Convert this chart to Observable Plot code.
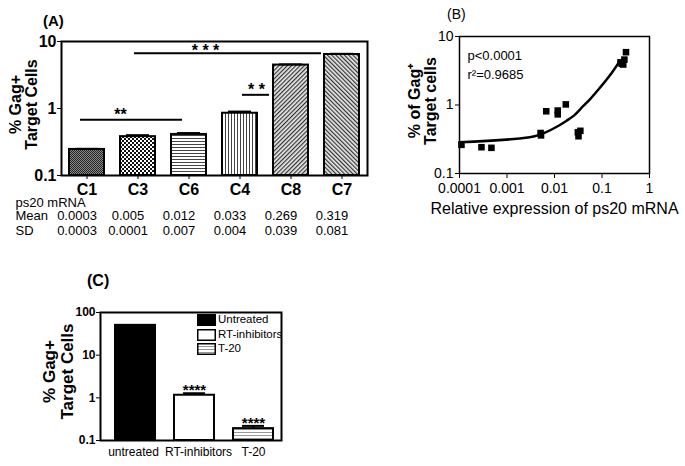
<!DOCTYPE html>
<html><head><meta charset="utf-8">
<script src="https://cdn.jsdelivr.net/npm/d3@7"></script>
<script src="https://cdn.jsdelivr.net/npm/@observablehq/plot@0.6"></script>
<style>
html,body{margin:0;padding:0;background:#fff;}
#root{position:relative;width:685px;height:466px;overflow:hidden;font-family:"Liberation Sans",Arial,sans-serif;color:#000;}
.pane{position:absolute;}
.plab{position:absolute;line-height:1;white-space:nowrap;}
.leg{position:absolute;display:flex;align-items:center;font-size:11.5px;line-height:1;white-space:nowrap;}
.leg svg{margin-right:2px;}
</style></head><body>
<svg width="0" height="0" style="position:absolute">
<defs>
  <pattern id="pat-C1" width="2" height="2" patternUnits="userSpaceOnUse">
    <rect width="2" height="2" fill="#8a8a8a"/>
    <rect width="1" height="1" fill="#222"/>
    <rect x="1" y="1" width="1" height="1" fill="#222"/>
  </pattern>
  <pattern id="pat-C3" width="4" height="4" patternUnits="userSpaceOnUse">
    <rect width="4" height="4" fill="#111"/>
    <rect width="2" height="2" fill="#fff"/>
    <rect x="2" y="2" width="2" height="2" fill="#fff"/>
  </pattern>
  <pattern id="pat-C6" width="3" height="3" patternUnits="userSpaceOnUse">
    <rect width="3" height="3" fill="#fff"/>
    <rect width="3" height="1" fill="#444"/>
  </pattern>
  <pattern id="pat-C4" width="3" height="3" patternUnits="userSpaceOnUse">
    <rect width="3" height="3" fill="#fff"/>
    <rect width="1" height="3" fill="#444"/>
  </pattern>
  <pattern id="pat-C8" width="3" height="3" patternUnits="userSpaceOnUse" patternTransform="rotate(45)">
    <rect width="3" height="3" fill="#e8e8e8"/>
    <rect width="1.2" height="3" fill="#333"/>
  </pattern>
  <pattern id="pat-C7" width="3" height="3" patternUnits="userSpaceOnUse" patternTransform="rotate(-45)">
    <rect width="3" height="3" fill="#e8e8e8"/>
    <rect width="1.2" height="3" fill="#333"/>
  </pattern>
  <pattern id="pat-T20" width="3" height="3" patternUnits="userSpaceOnUse">
    <rect width="3" height="3" fill="#fff"/>
    <rect width="3" height="1" fill="#999"/>
  </pattern>
</defs></svg>
<div id="root"></div>
<script>
// ---------- Panel A data ----------
const catsA = ["C1", "C3", "C6", "C4", "C8", "C7"];
const gagA = [0.245, 0.38, 0.41, 0.85, 4.45, 6.4];
const errA = [0.005, 0.02, 0.02, 0.05, 0.1, 0.15];
const meanA = ["0.0003", "0.005", "0.012", "0.033", "0.269", "0.319"];
const sdA = ["0.0003", "0.0001", "0.007", "0.004", "0.039", "0.081"];
const tableRowLabels = ["ps20 mRNA", "Mean", "SD"];
const sigFrom = ["C1", "C4", "C3"];
const sigTo = ["C6", "C8", "C7"];
const sigY = [0.68, 1.6, 6.7];
const sigText = ["**", "* *", "* * *"];
const ticksA = [0.1, 1, 10];
const yTitleA = "% Gag+\nTarget Cells";

// ---------- Panel B data ----------
const ps20X = [0.00011, 0.00029, 0.00047, 0.0051, 0.0052, 0.0067, 0.0117, 0.0117, 0.0173, 0.031, 0.032, 0.035, 0.245, 0.26, 0.28, 0.296, 0.32];
const gagB  = [0.262, 0.242, 0.237, 0.39, 0.36, 0.81, 0.83, 0.73, 1.02, 0.40, 0.35, 0.42, 4.2, 4.0, 3.9, 4.6, 5.9];
const fitX = [0.0001, 0.003, 0.005, 0.0114, 0.018, 0.0256, 0.04, 0.057, 0.085, 0.129, 0.18, 0.226];
const fitY = [0.286, 0.339, 0.37, 0.485, 0.59, 0.70, 0.96, 1.23, 1.7, 2.41, 3.3, 4.2];
const ticksBX = [0.0001, 0.001, 0.01, 0.1, 1];
const ticksBY = [0.1, 1, 10];
const statsB = "p<0.0001\nr\u00B2=0.9685";
const xTitleB = "Relative expression of ps20 mRNA";
const yTitleB = "% of Gag\u207A\nTarget cells";

// ---------- Panel C data ----------
const treatC = ["untreated", "RT-inhibitors", "T-20"];
const legendC = ["Untreated", "RT-inhibitors", "T-20"];
const gagC = [50, 1.15, 0.19];
const errC = [0, 0.13, 0.03];
const starsC = ["", "****", "****"];
const ticksC = [0.1, 1, 10, 100];
const yTitleC = "% Gag+\nTarget Cells";

const FONT = '"Liberation Sans", Arial, sans-serif';
const root = document.getElementById("root");
function place(node, left, top) {
  const d = document.createElement("div");
  d.className = "pane"; d.style.left = left + "px"; d.style.top = top + "px";
  d.appendChild(node); root.appendChild(d);
}
function label(text, left, top, size, weight) {
  const d = document.createElement("div");
  d.className = "plab"; d.textContent = text;
  d.style.left = left + "px"; d.style.top = top + "px";
  d.style.fontSize = size + "px"; d.style.fontWeight = weight;
  root.appendChild(d);
}
const fmt = d => String(d);

// ---------- Panel A ----------
const rowsA = catsA.map((c, i) => ({c, v: gagA[i], e: errA[i], m: meanA[i], s: sdA[i]}));
const sigRows = sigFrom.map((f, i) => ({f, t: sigTo[i], y: sigY[i], text: sigText[i]}));
// [insetLeft, insetRight, label dy, label x offset from frame left]
const sigStyle = [[11, 24, -5, 59], [20, 39, -5, 195], [14, 38, -2, 144]];
const plotA = Plot.plot({
  width: 385, height: 245,
  marginLeft: 61, marginRight: 18, marginTop: 41, marginBottom: 70,
  style: {fontFamily: FONT, color: "#000", background: "transparent", overflow: "visible"},
  x: {domain: catsA, paddingInner: 0.31, paddingOuter: 0.155, axis: null},
  y: {type: "log", domain: [0.1, 10], axis: null},
  color: {domain: catsA, range: catsA.map(c => `url(#pat-${c})`)},
  marks: [
    Plot.barY(rowsA, {x: "c", y1: 0.1, y2: "v", fill: "c", stroke: "#000", strokeWidth: 2}),
    Plot.ruleX(rowsA, {x: "c", y1: "v", y2: d => d.v + d.e, strokeWidth: 2}),
    Plot.tickY(rowsA, {x: "c", y: d => d.v + d.e, strokeWidth: 2, insetLeft: 6, insetRight: 6}),
    ...sigRows.map((r, i) => Plot.ruleY([r], {x1: "f", x2: "t", y: "y", strokeWidth: 2,
      insetLeft: sigStyle[i][0], insetRight: sigStyle[i][1]})),
    ...sigRows.map((r, i) => Plot.text([r], {
      y: "y", text: "text", fontSize: 16, fontWeight: "bold",
      frameAnchor: "left", textAnchor: "middle",
      dx: sigStyle[i][3], dy: sigStyle[i][2]})),
    Plot.frame({stroke: "#000", strokeWidth: 2}),
    Plot.axisY({ticks: ticksA, tickFormat: fmt, tickSize: 4, tickPadding: 1, fontWeight: "bold", fontSize: 16, label: null}),
    Plot.axisX({tickSize: 4, tickPadding: 4, fontWeight: "bold", fontSize: 16, label: null}),
    Plot.text([yTitleA], {text: d => d, frameAnchor: "left", textAnchor: "middle", rotate: -90, dx: -38, dy: -4, fontWeight: "bold", fontSize: 16, lineHeight: 1.0}),
    Plot.text([tableRowLabels[0]], {text: d => d, frameAnchor: "bottom-left", textAnchor: "start", dx: -46, dy: 31, fontSize: 13}),
    Plot.text([tableRowLabels[1]], {text: d => d, frameAnchor: "bottom-left", textAnchor: "start", dx: -46, dy: 44.5, fontSize: 13}),
    Plot.text([tableRowLabels[2]], {text: d => d, frameAnchor: "bottom-left", textAnchor: "start", dx: -46, dy: 59, fontSize: 13}),
    Plot.text(rowsA, {x: "c", text: "m", frameAnchor: "bottom", dx: -10, dy: 44.5, fontSize: 13}),
    Plot.text(rowsA, {x: "c", text: "s", frameAnchor: "bottom", dx: -10, dy: 59, fontSize: 13})
  ]
});
place(plotA, 0, 0);
label("(A)", 43, 13, 15, "bold");

// ---------- Panel B ----------
const ptsB = ps20X.map((x, i) => ({x, y: gagB[i]}));
const fitB = fitX.map((x, i) => ({x, y: fitY[i]}));
const plotB = Plot.plot({
  width: 295, height: 230,
  marginLeft: 69, marginRight: 36, marginTop: 36, marginBottom: 57,
  style: {fontFamily: FONT, color: "#000", background: "transparent", overflow: "visible"},
  x: {type: "log", domain: [0.0001, 1], axis: null},
  y: {type: "log", domain: [0.1, 10], axis: null},
  marks: [
    Plot.frame({stroke: "#000", strokeWidth: 1.5}),
    Plot.axisY({ticks: ticksBY, tickFormat: fmt, tickSize: 4, tickPadding: 2, fontSize: 14, label: null}),
    Plot.axisX({ticks: ticksBX, tickFormat: fmt, tickSize: 5, tickPadding: 5, fontSize: 14, label: null}),
    Plot.line(fitB, {x: "x", y: "y", strokeWidth: 2.5, curve: "monotone-x"}),
    Plot.dot(ptsB, {x: "x", y: "y", symbol: "square", fill: "#000", r: 3.7}),
    Plot.text([statsB], {text: d => d, frameAnchor: "top-left", textAnchor: "start", lineAnchor: "top", dx: 8, dy: 10, fontSize: 13, lineHeight: 1.45}),
    Plot.text([xTitleB], {text: d => d, frameAnchor: "bottom", dy: 40, fontSize: 16}),
    Plot.text([yTitleB], {text: d => d, frameAnchor: "left", textAnchor: "middle", rotate: -90, dx: -37, dy: -4, fontWeight: "bold", fontSize: 16, lineHeight: 1.0})
  ]
});
place(plotB, 390, 0);
label("(B)", 447, 7, 14, "normal");

// ---------- Panel C ----------
const rowsC = treatC.map((t, i) => ({t, v: gagC[i], e: errC[i], s: starsC[i]}));
const fillC = ["#000", "#fff", "url(#pat-T20)"];
const labelDxC = [-2, 4, 0];
const plotC = Plot.plot({
  width: 270, height: 166,
  marginLeft: 70, marginRight: 19, marginTop: 12, marginBottom: 26,
  style: {fontFamily: FONT, color: "#000", background: "transparent", overflow: "visible"},
  x: {domain: treatC, paddingInner: 0.33, paddingOuter: 0.19, align: 0.62, axis: null},
  y: {type: "log", domain: [0.1, 100], axis: null},
  color: {domain: treatC, range: fillC},
  marks: [
    Plot.barY(rowsC, {x: "t", y1: 0.1, y2: "v", fill: "t", stroke: "#000", strokeWidth: 2}),
    Plot.ruleX(rowsC.filter(d => d.e > 0), {x: "t", y1: "v", y2: d => d.v + d.e, strokeWidth: 2}),
    Plot.tickY(rowsC.filter(d => d.e > 0), {x: "t", y: d => d.v + d.e, strokeWidth: 2, insetLeft: 9, insetRight: 9}),
    Plot.text(rowsC, {x: "t", y: d => d.v + d.e, text: "s", dy: -3, fontSize: 15, fontWeight: "bold"}),
    Plot.frame({stroke: "#000", strokeWidth: 2}),
    Plot.axisY({ticks: ticksC, tickFormat: fmt, tickSize: 4, tickPadding: 1, fontWeight: "bold", fontSize: 12, label: null}),
    ...treatC.map((t, i) => Plot.axisX([t], {tickSize: 0, tickPadding: 7, fontSize: 12, dx: labelDxC[i], label: null})),
    Plot.text([yTitleC], {text: d => d, frameAnchor: "left", textAnchor: "middle", rotate: -90, dx: -42, dy: -5, fontWeight: "bold", fontSize: 17, lineHeight: 1.05})
  ]
});
place(plotC, 30, 300);
label("(C)", 87, 273, 16, "bold");

// legend C
legendC.forEach((name, i) => {
  const d = document.createElement("div");
  d.className = "leg";
  d.style.left = "197px"; d.style.top = (314 + i * 14.5) + "px";
  d.innerHTML = `<svg width="19" height="12"><rect x="0.75" y="0.75" width="17.5" height="10.5" fill="${fillC[i]}" stroke="#000" stroke-width="1.5"/></svg>`;
  const s = document.createElement("span"); s.textContent = name; d.appendChild(s);
  root.appendChild(d);
});
</script>
</body></html>
